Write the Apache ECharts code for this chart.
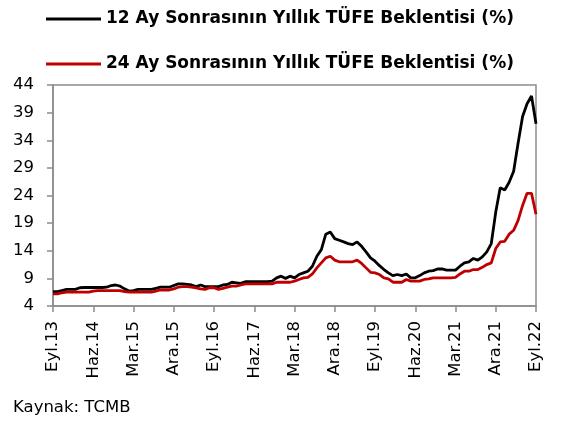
<!DOCTYPE html>
<html>
<head>
<meta charset="utf-8">
<script src="https://cdn.jsdelivr.net/npm/echarts@6/dist/echarts.min.js"></script>
<style>
  html, body { margin: 0; padding: 0; background: #fff; }
  #chart { width: 564px; height: 423px; }
</style>
</head>
<body>
<div id="chart"></div>
<script>
// monthly survey, Eyl.13 .. Eyl.22
const monthNames = ['Oca', 'Şub', 'Mar', 'Nis', 'May', 'Haz', 'Tem', 'Ağu', 'Eyl', 'Eki', 'Kas', 'Ara'];
const startYear = 2013;
const startMonth = 8; // Eyl
const monthCount = 109;

const categories = [];
for (let i = 0; i < monthCount; i++) {
  const m = (startMonth + i) % 12;
  const y = startYear + Math.floor((startMonth + i) / 12);
  categories.push(monthNames[m] + '.' + String(y).slice(2));
}

const yTicks = [4, 9, 14, 19, 24, 29, 34, 39, 44];

const name12 = '12 Ay Sonrasının Yıllık TÜFE Beklentisi (%)';
const name24 = '24 Ay Sonrasının Yıllık TÜFE Beklentisi (%)';

const expect12 = [
  6.6, 6.6, 6.8, 7.0, 7.0, 7.0, 7.3, 7.35, 7.35, 7.35, 7.35, 7.35,
  7.4, 7.7, 7.8, 7.6, 7.1, 6.7, 6.8, 7.0, 7.0, 7.0, 7.0, 7.2,
  7.4, 7.4, 7.4, 7.7, 8.0, 8.0, 7.9, 7.8, 7.5, 7.8, 7.5, 7.5,
  7.5, 7.5, 7.8, 7.9, 8.3, 8.2, 8.1, 8.4, 8.4, 8.4, 8.4, 8.4,
  8.4, 8.5, 9.1, 9.4, 9.0, 9.4, 9.1, 9.7, 10.0, 10.3, 11.2, 13.0,
  14.2, 17.0, 17.4, 16.2, 15.9, 15.6, 15.3, 15.1, 15.6, 14.8, 13.8, 12.7,
  12.1, 11.3, 10.6, 10.0, 9.5, 9.7, 9.5, 9.8, 9.1, 9.1, 9.5, 10.0,
  10.3, 10.4, 10.7, 10.7, 10.5, 10.5, 10.5, 11.2, 11.8, 12.0, 12.6, 12.3,
  12.9, 13.8, 15.3, 21.0, 25.4, 25.0, 26.4, 28.4, 33.5, 38.3, 40.6, 42.0,
  37.0
];

const expect24 = [
  6.2, 6.2, 6.4, 6.5, 6.5, 6.5, 6.5, 6.5, 6.5, 6.7, 6.8, 6.8,
  6.8, 6.8, 6.8, 6.8, 6.6, 6.5, 6.5, 6.5, 6.5, 6.5, 6.5, 6.7,
  6.9, 6.9, 6.9, 7.1, 7.4, 7.5, 7.5, 7.4, 7.3, 7.1, 7.0, 7.3,
  7.3, 7.0, 7.2, 7.4, 7.6, 7.6, 7.8, 8.0, 8.0, 8.0, 8.0, 8.0,
  8.0, 8.0, 8.3, 8.3, 8.3, 8.3, 8.5, 8.8, 9.1, 9.2, 9.8, 10.9,
  11.8, 12.7, 13.0, 12.3, 12.0, 12.0, 12.0, 12.0, 12.3, 11.7, 10.9, 10.1,
  10.0, 9.7, 9.1, 8.9, 8.3, 8.3, 8.3, 8.8, 8.5, 8.5, 8.5, 8.8,
  8.9, 9.1, 9.1, 9.1, 9.1, 9.1, 9.2, 9.8, 10.3, 10.3, 10.6, 10.6,
  11.0, 11.5, 11.8, 14.4, 15.6, 15.7, 17.0, 17.7, 19.5, 22.2, 24.4, 24.4,
  20.6
];

const axisGray = '#8c8c8c';
const font = 'DejaVu Sans';

const chart = echarts.init(document.getElementById('chart'), null, { renderer: 'canvas' });

const option = {
  animation: false,
  backgroundColor: '#fff',
  legend: {
    orient: 'vertical',
    left: 41,
    top: 4,
    icon: 'rect',
    itemWidth: 55,
    itemHeight: 3,
    itemGap: 25,
    textStyle: {
      fontFamily: font,
      fontWeight: 'bold',
      fontSize: 17,
      lineHeight: 20,
      color: '#000'
    },
    data: [name12, name24]
  },
  grid: {
    left: 53,
    right: 28,
    top: 85,
    bottom: 117,
    show: true,
    borderColor: axisGray,
    borderWidth: 1.5
  },
  xAxis: {
    type: 'category',
    data: categories,
    boundaryGap: false,
    axisLine: { lineStyle: { color: axisGray, width: 1.5 } },
    axisTick: { interval: 8, length: 6, lineStyle: { color: axisGray, width: 1.5 } },
    axisLabel: {
      interval: 8,
      rotate: 90,
      margin: 15,
      fontFamily: font,
      fontSize: 16.5,
      color: '#000'
    },
    splitLine: { show: false }
  },
  yAxis: {
    type: 'value',
    min: yTicks[0],
    max: yTicks[yTicks.length - 1],
    interval: 5,
    axisLine: { show: true, lineStyle: { color: axisGray, width: 1.5 } },
    axisTick: { show: true, length: 6, lineStyle: { color: axisGray, width: 1.5 } },
    axisLabel: {
      margin: 19,
      fontFamily: font,
      fontSize: 16.5,
      color: '#000'
    },
    splitLine: { show: false }
  },
  series: [
    {
      name: name12,
      type: 'line',
      data: expect12,
      symbol: 'none',
      lineStyle: { color: '#000', width: 2.8 },
      itemStyle: { color: '#000' }
    },
    {
      name: name24,
      type: 'line',
      data: expect24,
      symbol: 'none',
      lineStyle: { color: '#c00000', width: 2.8 },
      itemStyle: { color: '#c00000' }
    }
  ],
  graphic: [
    {
      type: 'text',
      left: 13,
      top: 399,
      style: {
        text: 'Kaynak: TCMB',
        fontFamily: font,
        fontSize: 16.5,
        fill: '#000'
      }
    }
  ]
};

chart.setOption(option);
</script>
</body>
</html>
